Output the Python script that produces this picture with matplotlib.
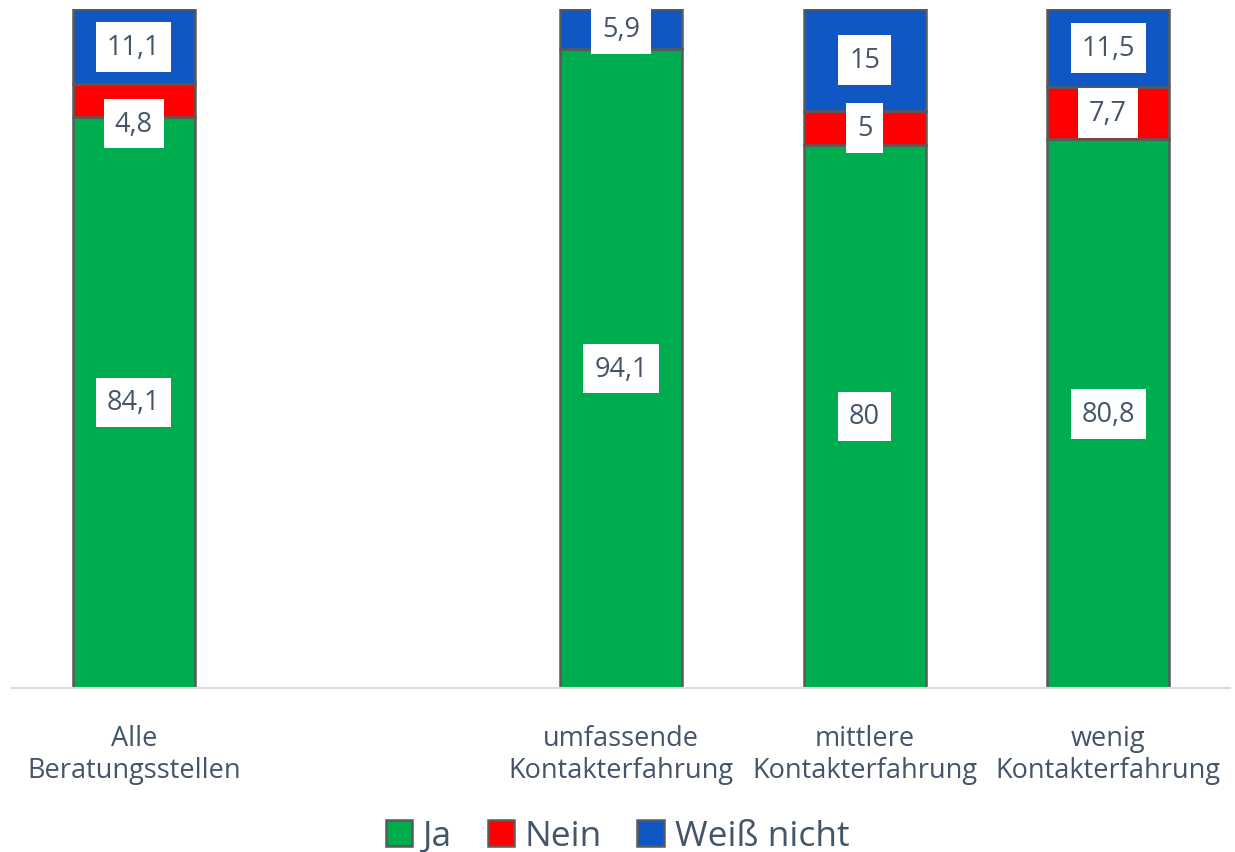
import matplotlib
matplotlib.use("Agg")
import matplotlib.pyplot as plt
import numpy as np

categories = ["Alle\nBeratungsstellen", "", "umfassende\nKontakterfahrung",
              "mittlere\nKontakterfahrung", "wenig\nKontakterfahrung"]
ja = [84.1, None, 94.1, 80.0, 80.8]
nein = [4.8, None, 0.0, 5.0, 7.7]
weiss = [11.1, None, 5.9, 15.0, 11.5]
ja_labels = ["84,1", "", "94,1", "80", "80,8"]
nein_labels = ["4,8", "", "", "5", "7,7"]
weiss_labels = ["11,1", "", "5,9", "15", "11,5"]
series_names = ["Ja", "Nein", "Weiß nicht"]
colors = ["#00AD4E", "#FF0000", "#0F57C3"]

plt.rcParams['font.family'] = ['Open Sans', 'DejaVu Sans']
text_color = "#44546A"

fig = plt.figure(figsize=(12.35, 8.53), dpi=100)
ax = fig.add_axes([12/1235, 1-689/853, 1218/1235, 679/853])

x = np.arange(len(categories))
def clean(v):
    return np.array([np.nan if a is None else a for a in v], dtype=float)

ja_a, nein_a, weiss_a = clean(ja), clean(nein), clean(weiss)
width = 0.5
bottoms = np.zeros(len(x))
all_vals = [ja_a, nein_a, weiss_a]
all_labels = [ja_labels, nein_labels, weiss_labels]
bars = []
for vals, col, name in zip(all_vals, colors, series_names):
    v = np.nan_to_num(vals)
    b = ax.bar(x, v, width, bottom=bottoms, color=col, edgecolor="#595959",
               linewidth=1.8, label=name)
    bars.append((v, bottoms.copy()))
    bottoms = bottoms + v

# data labels in white boxes
for si, (v, bot) in enumerate(bars):
    for i in range(len(x)):
        lab = all_labels[si][i]
        if not lab:
            continue
        yc = bot[i] + v[i] / 2
        dy = 0
        if si == 1 and i == 0:
            dy = -23  # label pushed down to avoid overlap
        ax.annotate(lab, (x[i], yc), xytext=(0, dy), textcoords="offset pixels",
                    ha="center", va="center", fontsize=19.5, color=text_color,
                    bbox=dict(boxstyle="square,pad=0.4", fc="white", ec="none"))

ax.set_xlim(-0.5, len(x) - 0.5)
ax.set_ylim(0, 100)
ax.set_xticks(x)
ax.set_xticklabels(categories, fontsize=19.5, color=text_color, linespacing=1.2)
ax.tick_params(axis="x", length=0, pad=26)
ax.set_yticks([])
for s in ["top", "right", "left"]:
    ax.spines[s].set_visible(False)
ax.spines["bottom"].set_color("#D9DDE3")
ax.spines["bottom"].set_linewidth(1.5)

leg = fig.legend(loc="center", bbox_to_anchor=(0.5, 1-837/853), ncol=3, frameon=False,
                 fontsize=25.5, handlelength=0.75, handleheight=0.75, handletextpad=0.3,
                 columnspacing=1.0)
for t in leg.get_texts():
    t.set_color(text_color)

fig.savefig("out.png", dpi=100)
